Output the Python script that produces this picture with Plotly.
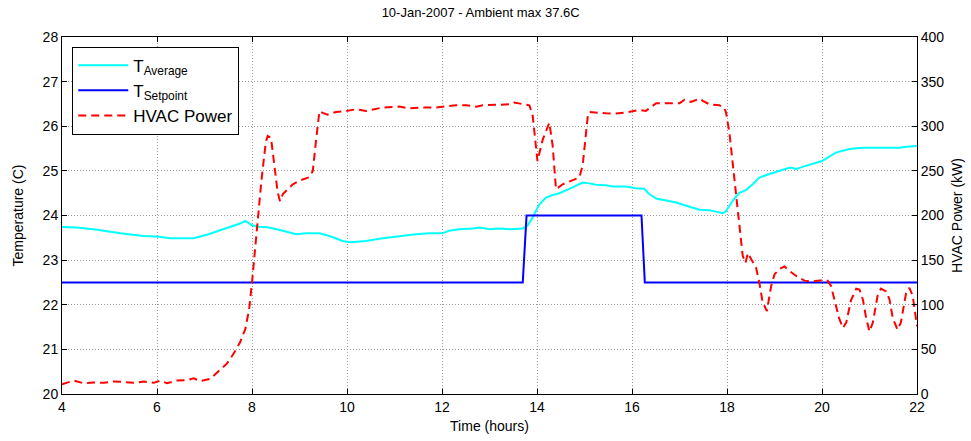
import plotly.graph_objects as go

# Zone average temperature (C) over the day
t_avg_hours = [4.0, 4.32, 4.74, 5.23, 5.72, 6.0, 6.28, 6.77, 7.05, 7.19, 7.47, 7.75, 7.86, 8.0,
               8.15, 8.36, 8.65, 8.93, 9.14, 9.42, 9.63, 9.91, 10.07, 10.4, 10.75, 11.1, 11.45,
               11.73, 12.01, 12.15, 12.36, 12.65, 12.79, 13.0, 13.21, 13.42, 13.7, 13.8, 13.91,
               14.05, 14.19, 14.33, 14.47, 14.75, 14.96, 15.1, 15.24, 15.45, 15.59, 15.87, 16.08,
               16.26, 16.36, 16.51, 16.72, 16.93, 17.14, 17.42, 17.63, 17.84, 17.91, 17.98, 18.12,
               18.26, 18.4, 18.54, 18.68, 18.89, 19.1, 19.31, 19.38, 19.45, 19.59, 19.8, 20.0,
               20.29, 20.58, 20.86, 21.21, 21.63, 21.77, 22.0]
t_avg = [23.74, 23.73, 23.68, 23.60, 23.54, 23.53, 23.49, 23.49, 23.57, 23.62, 23.73, 23.82, 23.88, 23.78,
         23.75, 23.73, 23.66, 23.58, 23.60, 23.60, 23.54, 23.43, 23.40, 23.43, 23.49, 23.54, 23.58,
         23.60, 23.60, 23.66, 23.69, 23.71, 23.73, 23.69, 23.71, 23.69, 23.71, 23.77, 23.96,
         24.25, 24.40, 24.46, 24.50, 24.63, 24.74, 24.72, 24.69, 24.68, 24.65, 24.65, 24.61,
         24.60, 24.48, 24.38, 24.33, 24.29, 24.22, 24.13, 24.12, 24.07, 24.05, 24.10, 24.33,
         24.51, 24.57, 24.70, 24.85, 24.93, 25.00, 25.07, 25.07, 25.04, 25.09, 25.15, 25.22,
         25.41, 25.49, 25.52, 25.52, 25.52, 25.54, 25.56]

# Temperature setpoint schedule (C)
t_set_hours = [4.0, 13.7, 13.78, 16.2, 16.27, 22.0]
t_set = [22.5, 22.5, 24.0, 24.0, 22.5, 22.5]

# HVAC electrical power (kW)
power_hours = [4.0, 4.25, 4.46, 4.67, 4.88, 5.09, 5.3, 5.51, 5.72, 5.93, 6.07, 6.21, 6.42, 6.63,
               6.77, 6.91, 7.12, 7.26, 7.47, 7.61, 7.75, 7.86, 7.94, 8.0, 8.1, 8.2, 8.29, 8.33,
               8.4, 8.47, 8.54, 8.59, 8.65, 8.86, 9.0, 9.21, 9.28, 9.35, 9.42, 9.49, 9.59, 9.77,
               9.98, 10.19, 10.4, 10.47, 10.75, 11.1, 11.31, 11.59, 11.87, 12.15, 12.29, 12.51,
               12.72, 12.86, 13.21, 13.45, 13.52, 13.7, 13.84, 13.91, 14.01, 14.12, 14.26, 14.33,
               14.4, 14.54, 14.75, 14.89, 14.96, 15.07, 15.1, 15.24, 15.45, 15.66, 15.87, 16.15,
               16.29, 16.51, 16.72, 17.0, 17.1, 17.24, 17.42, 17.49, 17.63, 17.84, 17.94, 17.98,
               18.05, 18.12, 18.19, 18.26, 18.33, 18.39, 18.44, 18.51, 18.61, 18.68, 18.75, 18.84,
               18.93, 19.0, 19.1, 19.21, 19.31, 19.45, 19.63, 19.8, 20.0, 20.12, 20.19, 20.26,
               20.36, 20.44, 20.51, 20.61, 20.72, 20.79, 20.86, 20.93, 21.0, 21.07, 21.17, 21.24,
               21.35, 21.42, 21.49, 21.59, 21.66, 21.77, 21.84, 21.91, 21.98, 22.0]
power_kw = [11, 15, 12, 13, 12.5, 14, 13.5, 12.5, 14, 12.5, 15, 12, 15, 15.5,
            17.5, 14.5, 17, 24, 34, 45, 58, 73, 95, 125, 185, 240, 282, 289,
            287, 259, 226, 216, 224, 235, 239, 243, 250, 285, 317, 315, 313, 316,
            317, 319, 317, 318, 321, 322, 320, 321, 321, 322.7, 323.5, 323.5,
            322, 323.5, 324, 324.6, 326.5, 324.6, 323.5, 311.6, 261, 285, 304, 278,
            229.5, 235, 239, 242.5, 255.6, 311.6, 316, 315.3, 314.5, 314.2, 315.3, 318.3,
            317.2, 325.7, 325.7, 325.7, 329.5, 327.2, 331, 328.4, 324.6, 323.5, 320.9, 315.3,
            293, 259, 226, 192, 155, 147, 158, 151, 142, 125, 103, 93,
            121, 134, 140, 143, 138, 132.5, 127, 126, 127.6, 126.9, 121, 106,
            85, 74, 80, 105, 118, 117, 106, 85, 70, 80, 110, 118,
            115, 106, 85, 72, 80, 113, 119, 110, 80, 76]

title_text = "10-Jan-2007 - Ambient max 37.6C"
x_ticks = [4, 6, 8, 10, 12, 14, 16, 18, 20, 22]
temp_ticks = [20, 21, 22, 23, 24, 25, 26, 27, 28]
power_ticks = [0, 50, 100, 150, 200, 250, 300, 350, 400]

FONT = "Liberation Sans, Arial, sans-serif"

fig = go.Figure()
fig.add_trace(go.Scatter(x=t_avg_hours, y=t_avg, mode="lines", name="T<sub>Average</sub>",
                         line=dict(color="#00FFFF", width=2)))
fig.add_trace(go.Scatter(x=t_set_hours, y=t_set, mode="lines", name="T<sub>Setpoint</sub>",
                         line=dict(color="#0000FF", width=2)))
fig.add_trace(go.Scatter(x=power_hours, y=power_kw, mode="lines", name="HVAC Power",
                         line=dict(color="#FF0000", width=2, dash="8px,5px"), yaxis="y2"))

axis_common = dict(showline=True, linecolor="black", linewidth=1, ticks="inside", ticklen=5,
                   tickcolor="black", tickfont=dict(family=FONT, size=14, color="black"),
                   zeroline=False, automargin=False)

fig.update_layout(
    width=971, height=441,
    margin=dict(l=62, r=54, t=37, b=47),
    paper_bgcolor="white", plot_bgcolor="white",
    font=dict(family=FONT, size=14, color="black"),
    title=dict(text=title_text, x=0.495, xref="container", xanchor="center",
               y=0.972, yref="container", yanchor="middle",
               font=dict(family=FONT, size=13, color="black")),
    xaxis=dict(range=[4, 22], tickvals=x_ticks, mirror="ticks", showgrid=True,
               gridcolor="#9a9a9a", griddash="1px,2px", gridwidth=1,
               title=dict(text="Time (hours)", standoff=7, font=dict(size=14)), **axis_common),
    yaxis=dict(range=[20, 28], tickvals=temp_ticks, showgrid=True,
               gridcolor="#9a9a9a", griddash="1px,2px", gridwidth=1,
               title=dict(text="Temperature (C)", standoff=15, font=dict(size=14)), **axis_common),
    yaxis2=dict(range=[0, 400], tickvals=power_ticks, overlaying="y", side="right",
                showgrid=False,
                title=dict(text="HVAC Power (kW)", standoff=8, font=dict(size=14)), **axis_common),
    legend=dict(x=0.012, y=0.973, xanchor="left", yanchor="top", bgcolor="white",
                bordercolor="black", borderwidth=1, font=dict(family=FONT, size=17),
                itemwidth=50, tracegroupgap=4),
    showlegend=True,
)

fig.write_html("out.html")
